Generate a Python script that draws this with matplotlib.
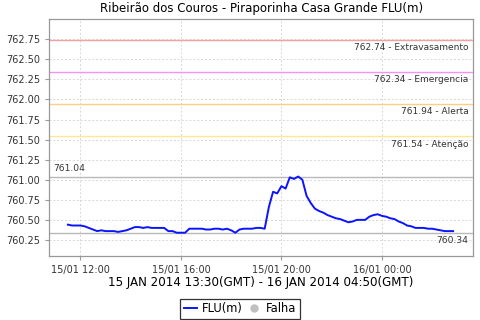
import matplotlib
matplotlib.use("Agg")
import matplotlib.pyplot as plt
import matplotlib.dates as mdates
from matplotlib.lines import Line2D
import pandas as pd

# leituras a cada 10 minutos (hora local), 15/01 11:30 -> 16/01 02:50
inicio = "2014-01-15 11:30"
nivel = [
    760.44, 760.43, 760.43, 760.43, 760.42, 760.40, 760.38, 760.36, 760.37, 760.36,
    760.36, 760.36, 760.35, 760.36, 760.37, 760.39, 760.41, 760.41, 760.40, 760.41,
    760.40, 760.40, 760.40, 760.40, 760.36, 760.36, 760.34, 760.34, 760.34, 760.39,
    760.39, 760.39, 760.39, 760.38, 760.38, 760.39, 760.39, 760.38, 760.39, 760.37,
    760.34, 760.38, 760.39, 760.39, 760.39, 760.40, 760.40, 760.39, 760.66, 760.85,
    760.83, 760.92, 760.89, 761.03, 761.01, 761.04, 761.00, 760.80, 760.71, 760.64,
    760.61, 760.59, 760.56, 760.54, 760.52, 760.51, 760.49, 760.47, 760.48, 760.50,
    760.50, 760.50, 760.54, 760.56, 760.57, 760.55, 760.54, 760.52, 760.51, 760.48,
    760.46, 760.43, 760.42, 760.40, 760.40, 760.40, 760.39, 760.39, 760.38, 760.37,
    760.36, 760.36, 760.36,
]
tempos = pd.date_range(inicio, periods=len(nivel), freq="10min")

# cotas de referência
cotas = [762.74, 762.34, 761.94, 761.54]
nomes = ["Extravasamento", "Emergencia", "Alerta", "Atenção"]
cores = ["#f4a0a0", "#f890f8", "#ffcc88", "#ffe890"]
maximo = 761.04
minimo = 760.34

titulo = "Ribeirão dos Couros - Piraporinha Casa Grande FLU(m)"
rotulo_x = "15 JAN 2014 13:30(GMT) - 16 JAN 2014 04:50(GMT)"

plt.rcParams['font.family'] = ['DejaVu Sans']

fig = plt.figure(figsize=(4.8, 3.2), dpi=100)
ax = fig.add_axes([0.103, 0.2, 0.882, 0.74])

# grade
ax.grid(True, color="#d8d8d8", linestyle=(0, (2, 2)), linewidth=0.7)
ax.set_axisbelow(True)

# linhas de referência
for c, n, cor in zip(cotas, nomes, cores):
    ax.axhline(c, color=cor, linewidth=1.0, zorder=1)
    ax.text(0.99, c - 0.04, f"{c:.2f} - {n}", transform=ax.get_yaxis_transform(),
            ha="right", va="top", fontsize=6.5, color="#333333")

ax.axhline(maximo, color="#b8b8b8", linewidth=1.0, zorder=1)
ax.text(0.008, maximo + 0.04, f"{maximo:.2f}", transform=ax.get_yaxis_transform(),
        ha="left", va="bottom", fontsize=6.6, color="#333333")
ax.axhline(minimo, color="#b8b8b8", linewidth=1.0, zorder=1)
ax.text(0.99, minimo - 0.04, f"{minimo:.2f}", transform=ax.get_yaxis_transform(),
        ha="right", va="top", fontsize=6.6, color="#333333")

# série
ax.plot(tempos, nivel, color="#0a14ff", linewidth=1.4, zorder=3)

ax.set_ylim(760.05, 763.0)
ax.set_yticks([760.25, 760.50, 760.75, 761.00, 761.25, 761.50, 761.75,
               762.00, 762.25, 762.50, 762.75])
ax.yaxis.set_major_formatter(matplotlib.ticker.FormatStrFormatter("%.2f"))
ax.set_xlim(pd.Timestamp("2014-01-15 10:46"), pd.Timestamp("2014-01-16 03:37"))
ax.xaxis.set_major_locator(mdates.HourLocator(byhour=[0, 4, 8, 12, 16, 20]))
ax.xaxis.set_major_formatter(mdates.DateFormatter("%d/%m %H:%M"))

ax.tick_params(labelsize=7, colors="#333333", length=3, width=0.8)
ax.tick_params(axis="both", color="#999999")
for s in ax.spines.values():
    s.set_color("#999999")
    s.set_linewidth(0.9)

ax.set_title(titulo, fontsize=8.5, pad=5)
ax.set_xlabel(rotulo_x, fontsize=8.6, labelpad=1)

# legenda
itens = [Line2D([], [], color="#0a14ff", linewidth=1.4),
         Line2D([], [], color="#c0c0c0", marker="o", linestyle="none", markersize=5)]
leg = fig.legend(itens, ["FLU(m)", "Falha"], loc="lower center",
                 bbox_to_anchor=(0.5, 0.0), ncol=2, fontsize=8.3, frameon=True,
                 fancybox=False, handlelength=1.2, handletextpad=0.4,
                 columnspacing=0.4, borderpad=0.3, borderaxespad=0.1)
leg.get_frame().set_edgecolor("black")
leg.get_frame().set_linewidth(0.9)

fig.savefig("out.png", dpi=100)
